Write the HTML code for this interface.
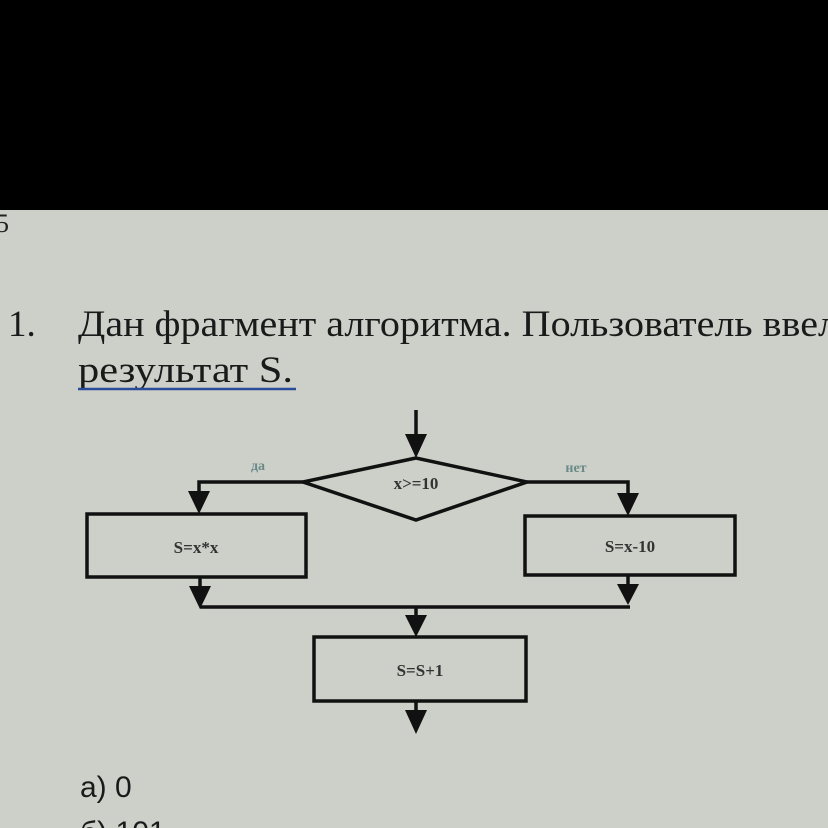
<!DOCTYPE html>
<html><head><meta charset="utf-8"><style>
html,body{margin:0;padding:0;width:828px;height:828px;overflow:hidden;background:#cdd0c9;}
svg{display:block}
</style></head><body>
<svg width="828" height="828" xmlns="http://www.w3.org/2000/svg">
<rect x="0" y="0" width="828" height="828" fill="#cdd0c9"/>
<rect x="0" y="0" width="828" height="210" fill="#000"/>
<text x="-4" y="232" font-family="Liberation Serif, serif" font-size="26" fill="#222">5</text>
<g font-family="Liberation Serif, serif" font-size="37" fill="#1a1a1a">
<text x="8" y="336">1.</text>
<text x="78" y="336" textLength="760" lengthAdjust="spacingAndGlyphs">Дан фрагмент алгоритма. Пользователь ввел</text>
<text x="78" y="382" textLength="215" lengthAdjust="spacingAndGlyphs">результат  S.</text>
</g>
<line x1="78" y1="389" x2="296" y2="389" stroke="#2a4a9a" stroke-width="2.5"/>
<g stroke="#111" stroke-width="3.5" fill="none">
<line x1="416" y1="410" x2="416" y2="440"/>
<polygon points="416,458 303,482 416,520 527,482" fill="#cdd0c9"/>
<polyline points="303,482 199,482 199,495"/>
<polyline points="527,482 628,482 628,497"/>
<rect x="87" y="514" width="219" height="63" fill="#cdd0c9"/>
<rect x="525" y="516" width="210" height="59" fill="#cdd0c9"/>
<line x1="200" y1="577" x2="200" y2="592"/>
<line x1="628" y1="575" x2="628" y2="590"/>
<polyline points="200,607 630,607"/>
<line x1="416" y1="607" x2="416" y2="620"/>
<rect x="314" y="637" width="212" height="64" fill="#cdd0c9"/>
<line x1="416" y1="701" x2="416" y2="715"/>
</g>
<g fill="#111">
<polygon points="405,434 427,434 416,458"/>
<polygon points="188,491 210,491 199,514"/>
<polygon points="617,493 639,493 628,516"/>
<polygon points="189,586 211,586 200,609"/>
<polygon points="617,584 639,584 628,605"/>
<polygon points="405,615 427,615 416,637"/>
<polygon points="405,710 427,710 416,734"/>
</g>
<g font-family="Liberation Serif, serif" font-size="17" font-weight="bold" fill="#333" text-anchor="middle">
<text x="416" y="489">x&gt;=10</text>
<text x="196" y="553">S=x*x</text>
<text x="630" y="552">S=x-10</text>
<text x="420" y="676">S=S+1</text>
</g>
<g font-family="Liberation Serif, serif" font-size="14" font-weight="bold" fill="#6a8a88" text-anchor="middle">
<text x="258" y="470">да</text>
<text x="576" y="472">нет</text>
</g>
<g font-family="Liberation Sans, sans-serif" font-size="30" fill="#1a1a1a">
<text x="80" y="797">а) 0</text>
<text x="80" y="842">б) 101</text>
</g>
</svg>
</body></html>
